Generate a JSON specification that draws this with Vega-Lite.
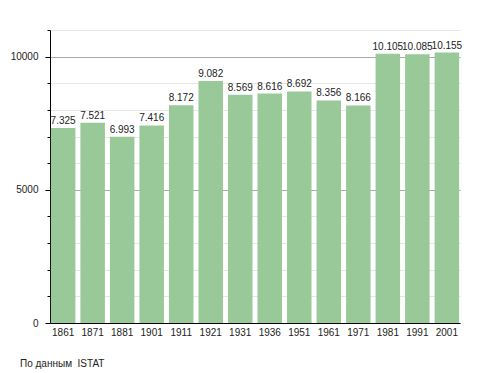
{
  "$schema": "https://vega.github.io/schema/vega-lite/v6.json",
  "width": 410,
  "height": 293,
  "autosize": {"type": "none"},
  "padding": {"left": 50, "top": 30, "right": 28, "bottom": 50},
  "background": "white",
  "config": {
    "view": {"stroke": null},
    "font": "Liberation Sans",
    "axis": {"labelFont": "Liberation Sans", "labelFontSize": 10, "labelColor": "#222"}
  },
  "title": {
    "text": "По данным\u00a0 ISTAT",
    "orient": "bottom",
    "anchor": "start",
    "frame": "group",
    "dx": -30,
    "offset": 22,
    "fontSize": 10,
    "fontWeight": "normal",
    "color": "#222",
    "font": "Liberation Sans"
  },
  "data": {
    "values": [
      {"year": "1861", "pop": 7325, "label": "7.325"},
      {"year": "1871", "pop": 7521, "label": "7.521"},
      {"year": "1881", "pop": 6993, "label": "6.993"},
      {"year": "1901", "pop": 7416, "label": "7.416"},
      {"year": "1911", "pop": 8172, "label": "8.172"},
      {"year": "1921", "pop": 9082, "label": "9.082"},
      {"year": "1931", "pop": 8569, "label": "8.569"},
      {"year": "1936", "pop": 8616, "label": "8.616"},
      {"year": "1951", "pop": 8692, "label": "8.692"},
      {"year": "1961", "pop": 8356, "label": "8.356"},
      {"year": "1971", "pop": 8166, "label": "8.166"},
      {"year": "1981", "pop": 10105, "label": "10.105"},
      {"year": "1991", "pop": 10085, "label": "10.085"},
      {"year": "2001", "pop": 10155, "label": "10.155"}
    ]
  },
  "encoding": {
    "x": {
      "field": "year",
      "type": "ordinal",
      "sort": null,
      "scale": {"paddingInner": 0.17, "paddingOuter": 0.03},
      "axis": {
        "title": null,
        "labelAngle": 0,
        "ticks": false,
        "labelPadding": 4,
        "domainColor": "black",
        "domainWidth": 1
      }
    }
  },
  "layer": [
    {
      "mark": {"type": "bar", "color": "#99c999"},
      "encoding": {
        "y": {
          "field": "pop",
          "type": "quantitative",
          "scale": {"domain": [0, 11000], "nice": false},
          "axis": {
            "title": null,
            "orient": "left",
            "values": [0, 5000, 10000],
            "format": "d",
            "grid": true,
            "gridColor": "#aaaaaa",
            "tickSize": 5,
            "tickColor": "black",
            "domainColor": "black",
            "labelPadding": 7
          }
        }
      }
    },
    {
      "mark": {"type": "text", "baseline": "alphabetic", "dy": -4, "fontSize": 10, "color": "#222", "font": "Liberation Sans"},
      "encoding": {
        "y": {
          "field": "pop",
          "type": "quantitative",
          "axis": {
            "title": null,
            "orient": "left",
            "values": [1000, 2000, 3000, 4000, 6000, 7000, 8000, 9000, 11000],
            "labels": false,
            "domain": false,
            "grid": true,
            "gridColor": "#e6e6e6",
            "tickSize": 3,
            "tickColor": "black"
          }
        },
        "text": {"field": "label"}
      }
    }
  ],
  "resolve": {"axis": {"y": "independent"}}
}
